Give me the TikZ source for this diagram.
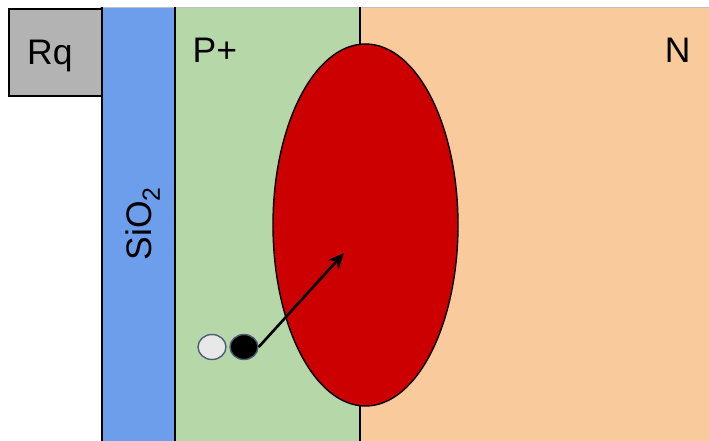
\documentclass[tikz,border=0pt]{standalone}
\usepackage{fontspec}
\setmainfont{Liberation Sans}
\usetikzlibrary{arrows.meta,shapes.geometric}
\definecolor{rqgray}{HTML}{B3B3B3}
\definecolor{oxblue}{HTML}{6D9EEB}
\definecolor{pgreen}{HTML}{B6D7A8}
\definecolor{norange}{HTML}{F9CB9C}
\definecolor{depred}{HTML}{CC0000}
\definecolor{slate}{HTML}{4D5D75}
\definecolor{holefill}{HTML}{E8E8E8}
\tikzset{
  region/.style={line width=1.4pt, draw=black},
  lbl/.style={inner sep=0pt, font=\fontsize{35.5}{40}\selectfont},
  carrier/.style={ellipse, minimum width=28pt, minimum height=25pt, inner sep=0pt, draw=slate, line width=1.4pt},
  motion/.style={line width=2.6pt, -{Stealth[length=16pt,width=14pt,inset=5pt]}}
}
\begin{document}
\begin{tikzpicture}[x=1pt,y=1pt]
\useasboundingbox (0,0) rectangle (709,440);
\clip (0,0) rectangle (709,440);
% fills
\fill[oxblue] (102,-5) rectangle (175,432);
\fill[pgreen] (175,-5) rectangle (360,432);
\fill[norange] (360,-5) rectangle (715,432);
% top edge
\draw[line width=1.3pt, draw=black!25] (100,432.5) -- (715,432.5);
% borders
\draw[region] (102,-5) -- (102,432.5);
\draw[region] (175,-5) -- (175,432.5);
\draw[region] (360,-5) -- (360,432.5);
% Rq box
\draw[region, fill=rqgray] (9,344) rectangle (102,431);
% depletion ellipse
\draw[region, fill=depred] (365.5,215) ellipse [x radius=92.5, y radius=181];
% labels
\node[lbl, anchor=base west] (rq) at (27,375) {Rq};
\node[lbl, anchor=base west] (pp) at (192.5,377) {P+};
\node[lbl, anchor=base east] (nn) at (690.6,377) {N};
\node[lbl, anchor=base west, rotate=90] (sio) at (151,179.5) {SiO\textsubscript{2}};
% carriers
\node[carrier, fill=holefill] (h) at (212,93) {};
\node[carrier, fill=black] (e) at (244,93) {};
\coordinate (tip) at (344,187);
\draw[motion] (e.east) -- (tip);
\end{tikzpicture}
\end{document}
